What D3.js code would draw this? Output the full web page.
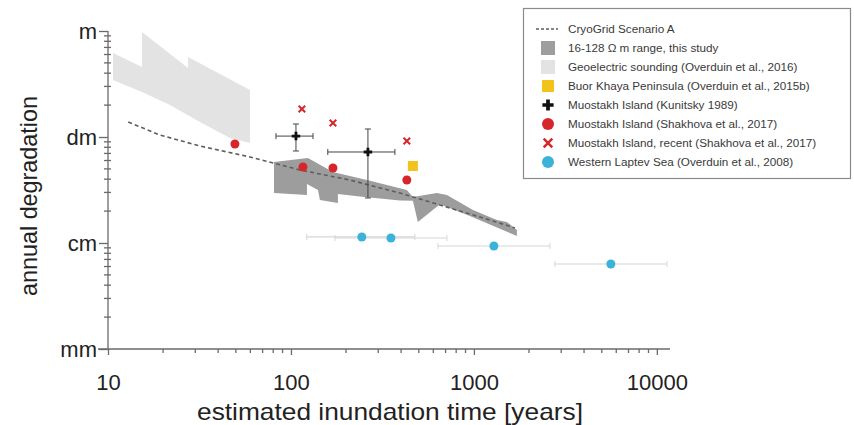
<!DOCTYPE html>
<html><head><meta charset="utf-8">
<script src="https://cdn.jsdelivr.net/npm/d3@7"></script>
<style>body{margin:0;background:#fff}svg{display:block}text{font-family:"Liberation Sans",Arial,sans-serif}</style>
</head><body><svg id="c" width="854" height="425"></svg>
<script>
// ---- data ----
const cryoX = [12.9, 19.2, 31.8, 59.7, 112, 210, 394, 739, 1387, 1675];
const cryoY = [0.1385, 0.1045, 0.0822, 0.0648, 0.0488, 0.0393, 0.0296, 0.0214, 0.0154, 0.01385];

const geoTopX = [10.65, 15.34, 15.34, 27.4, 27.4, 59.7];
const geoTopY = [0.620, 0.457, 0.979, 0.448, 0.569, 0.277];
const geoBotX = [10.65, 15.34, 21.8, 31.8, 46.4, 59.7];
const geoBotY = [0.345, 0.266, 0.200, 0.1385, 0.098, 0.0878];

const bandTopX = [80.8, 123.8, 169.7, 260, 430, 464, 628, 712, 988, 1336, 1515, 1718];
const bandTopY = [0.0581, 0.0634, 0.0468, 0.0393, 0.0316, 0.0272, 0.0296, 0.0284, 0.0205, 0.0165, 0.0158, 0.01327];
const bandBotX = [80.8, 122.3, 122.3, 140.5, 144, 180.6, 180.6, 238, 394, 464, 494, 652, 951, 1387, 1718];
const bandBotY = [0.0296, 0.0284, 0.0360, 0.0316, 0.0255, 0.0238, 0.0290, 0.0275, 0.0252, 0.0250, 0.0158, 0.0232, 0.0180, 0.0136, 0.01164];

const kunX = [106.5, 263.5];
const kunY = [0.102, 0.0722];
const kunXlo = [82.8, 159];
const kunXhi = [132, 370];
const kunYlo = [0.0738, 0.0266];
const kunYhi = [0.1326, 0.119];

const shakX = [49.4, 116.3, 169.7, 430];
const shakY = [0.0859, 0.0521, 0.0510, 0.0393];

const recX = [114.8, 169.7, 430];
const recY = [0.1837, 0.1355, 0.0917];

const buorX = [464];
const buorY = [0.0533];

const lapX = [244, 352, 1286, 5605];
const lapY = [0.0114, 0.01115, 0.00937, 0.00634];
const lapXlo = [122, 174, 636, 2771];
const lapXhi = [476, 712, 2603, 11350];

const xTicks = [10, 100, 1000, 10000];
const yTicks = [0.001, 0.01, 0.1, 1];
const yTickLabels = ["mm", "cm", "dm", "m"];

const legendLabels = ["CryoGrid Scenario A", "16-128 \u03A9 m range, this study",
  "Geoelectric sounding (Overduin et al., 2016)", "Buor Khaya Peninsula (Overduin et al., 2015b)",
  "Muostakh Island (Kunitsky 1989)", "Muostakh Island (Shakhova et al., 2017)",
  "Muostakh Island, recent (Shakhova et al., 2017)", "Western Laptev Sea (Overduin et al., 2008)"];

// ---- drawing ----
const svg = d3.select("#c");
const x = d3.scaleLog().domain([10, 11800]).range([108, 670]);
const y = d3.scaleLog().domain([0.001, 1]).range([349, 31]);
const axisCol = "#6a6a6a";
const red = "#d7262b", blue = "#3bb3d9", yellow = "#f1c31c";

function areaPoly(tx, ty, bx, by) {
  const pts = tx.map((v, i) => [x(v), y(ty[i])]);
  const bot = bx.map((v, i) => [x(v), y(by[i])]).reverse();
  return d3.line()(pts.concat(bot)) + "Z";
}
svg.append("path").attr("d", areaPoly(geoTopX, geoTopY, geoBotX, geoBotY)).attr("fill", "#e3e3e3");
svg.append("path").attr("d", areaPoly(bandTopX, bandTopY, bandBotX, bandBotY)).attr("fill", "#9d9d9d");

// axes
const gx = svg.append("g").attr("transform", "translate(0,349)");
gx.call(d3.axisBottom(x).tickValues(xTicks).tickFormat(d3.format("d")).tickSize(6).tickPadding(19));
const xMinor = [];
[10, 100, 1000, 10000].forEach(d => { for (let k = 2; k <= 9; k++) if (d * k <= 11800) xMinor.push(d * k); });
gx.selectAll(".mn").data(xMinor).join("line").attr("x1", d => x(d)).attr("x2", d => x(d)).attr("y1", 0).attr("y2", 4).attr("stroke", axisCol);
gx.select(".domain").attr("d", "M98,0H670");

const gy = svg.append("g").attr("transform", "translate(108,0)");
gy.call(d3.axisLeft(y).tickValues(yTicks).tickFormat((d, i) => yTickLabels[i]).tickSize(9).tickPadding(2));
const yMinor = [];
[0.001, 0.01, 0.1].forEach(d => { for (let k = 2; k <= 9; k++) yMinor.push(d * k); });
gy.selectAll(".mn").data(yMinor).join("line").attr("x1", -4).attr("x2", 3).attr("y1", d => y(d)).attr("y2", d => y(d)).attr("stroke", axisCol);
gy.select(".domain").attr("d", "M0,31V349");
[gx, gy].forEach(g => {
  g.selectAll("path,line").attr("stroke", axisCol).attr("stroke-width", 1.3);
  g.selectAll("text").attr("fill", "#222").style("font-size", "22px").style("font-family", "Liberation Sans, Arial");
});
gy.selectAll("text").attr("dy", "0.35em");

// cryogrid dashed line
svg.append("path").attr("d", d3.line().x((d, i) => x(d)).y((d, i) => y(cryoY[i]))(cryoX))
  .attr("fill", "none").attr("stroke", "#5e5e5e").attr("stroke-width", 1.6).attr("stroke-dasharray", "4,3");

// Laptev sea error bars and points
const lg = svg.append("g");
lapX.forEach((v, i) => {
  lg.append("line").attr("x1", x(lapXlo[i])).attr("x2", x(lapXhi[i])).attr("y1", y(lapY[i])).attr("y2", y(lapY[i])).attr("stroke", "#d6d6d6").attr("stroke-width", 1.2);
  [lapXlo[i], lapXhi[i]].forEach(e => lg.append("line").attr("x1", x(e)).attr("x2", x(e)).attr("y1", y(lapY[i]) - 3).attr("y2", y(lapY[i]) + 3).attr("stroke", "#d6d6d6"));
});
lg.selectAll("circle").data(lapX).join("circle").attr("cx", d => x(d)).attr("cy", (d, i) => y(lapY[i])).attr("r", 4.5).attr("fill", blue);

// Kunitsky crosses with error bars
kunX.forEach((v, i) => {
  const cx = x(v), cy = y(kunY[i]);
  svg.append("line").attr("x1", x(kunXlo[i])).attr("x2", x(kunXhi[i])).attr("y1", cy).attr("y2", cy).attr("stroke", "#444").attr("stroke-width", 1);
  svg.append("line").attr("x1", cx).attr("x2", cx).attr("y1", y(kunYlo[i])).attr("y2", y(kunYhi[i])).attr("stroke", "#444").attr("stroke-width", 1);
  [kunXlo[i], kunXhi[i]].forEach(e => svg.append("line").attr("x1", x(e)).attr("x2", x(e)).attr("y1", cy - 3).attr("y2", cy + 3).attr("stroke", "#444"));
  [kunYlo[i], kunYhi[i]].forEach(e => svg.append("line").attr("x1", cx - 3).attr("x2", cx + 3).attr("y1", y(e)).attr("y2", y(e)).attr("stroke", "#444"));
  svg.append("path").attr("d", d3.symbol(d3.symbolCross, 40)()).attr("transform", `translate(${cx},${cy})`).attr("fill", "#111");
});

// Shakhova circles
svg.selectAll(".sh").data(shakX).join("circle").attr("cx", d => x(d)).attr("cy", (d, i) => y(shakY[i])).attr("r", 4.5).attr("fill", red);

// recent X
recX.forEach((v, i) => {
  svg.append("path").attr("d", d3.symbol(d3.symbolX, 30)()).attr("transform", `translate(${x(v)},${y(recY[i])})`).attr("fill", "none").attr("stroke", red).attr("stroke-width", 2);
});

// Buor Khaya square
svg.selectAll(".bk").data(buorX).join("rect").attr("x", d => x(d) - 5).attr("y", (d, i) => y(buorY[i]) - 5).attr("width", 10).attr("height", 10).attr("fill", yellow);

// axis titles
svg.append("text").attr("x", 390).attr("y", 420).attr("text-anchor", "middle").style("font-size", "24px").attr("fill", "#222")
  .attr("textLength", 386).attr("lengthAdjust", "spacingAndGlyphs").text("estimated inundation time [years]");
svg.append("text").attr("transform", "translate(37,196) rotate(-90)").attr("text-anchor", "middle").style("font-size", "24px").attr("fill", "#222")
  .attr("textLength", 200).attr("lengthAdjust", "spacingAndGlyphs").text("annual degradation");

// legend
const leg = svg.append("g");
leg.append("rect").attr("x", 523.5).attr("y", 8.5).attr("width", 327).attr("height", 170).attr("fill", "#fff").attr("stroke", "#8a8a8a").attr("stroke-width", 1.2);
const ly = i => 29 + i * 19;
const sx = 548;
leg.append("line").attr("x1", sx - 12).attr("x2", sx + 10).attr("y1", ly(0)).attr("y2", ly(0)).attr("stroke", "#5e5e5e").attr("stroke-width", 1.4).attr("stroke-dasharray", "3,2");
leg.append("rect").attr("x", sx - 7).attr("y", ly(1) - 7).attr("width", 14).attr("height", 14).attr("fill", "#9d9d9d");
leg.append("rect").attr("x", sx - 7).attr("y", ly(2) - 7).attr("width", 14).attr("height", 14).attr("fill", "#e3e3e3");
leg.append("rect").attr("x", sx - 6).attr("y", ly(3) - 6).attr("width", 12).attr("height", 12).attr("fill", yellow);
leg.append("path").attr("d", d3.symbol(d3.symbolCross, 70)()).attr("transform", `translate(${sx},${ly(4)})`).attr("fill", "#111");
leg.append("circle").attr("cx", sx).attr("cy", ly(5)).attr("r", 6).attr("fill", red);
leg.append("path").attr("d", d3.symbol(d3.symbolX, 50)()).attr("transform", `translate(${sx},${ly(6)})`).attr("fill", "none").attr("stroke", red).attr("stroke-width", 2.5);
leg.append("circle").attr("cx", sx).attr("cy", ly(7)).attr("r", 6).attr("fill", blue);
leg.selectAll(".lt").data(legendLabels).join("text").attr("x", 568).attr("y", (d, i) => ly(i)).attr("dy", "0.35em").style("font-size", "11.7px").attr("fill", "#3a3a3a").text(d => d);
</script></body></html>
